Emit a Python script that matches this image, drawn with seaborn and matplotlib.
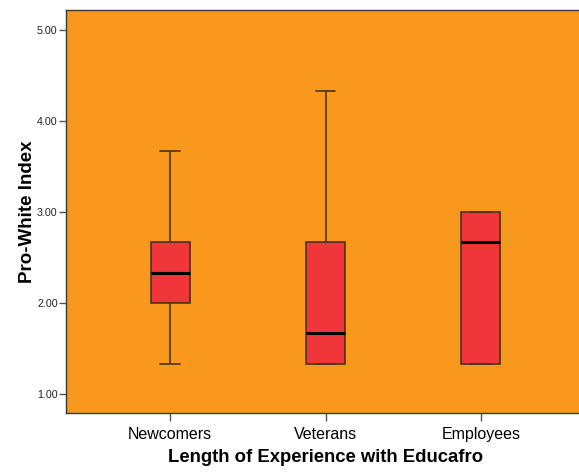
import matplotlib
matplotlib.use("Agg")
import matplotlib.pyplot as plt
import seaborn as sns
import pandas as pd

# Five-number summaries of the Pro-White Index by group
groups = ["Newcomers", "Veterans", "Employees"]
lows = [1.33, 1.33, 1.33]
q1s = [2.00, 1.33, 1.33]
medians = [2.33, 1.67, 2.67]
q3s = [2.67, 2.67, 3.00]
highs = [3.67, 4.33, 3.00]
yticks = [1.0, 2.0, 3.0, 4.0, 5.0]

rows = []
for g, lo, a, m, b, hi in zip(groups, lows, q1s, medians, q3s, highs):
    for v in (lo, a, m, b, hi):
        rows.append({"group": g, "score": v})
df = pd.DataFrame(rows)

sns.set_theme(style="ticks")
plt.rcParams["font.family"] = ["Liberation Sans", "DejaVu Sans"]

W, H = 579, 472
fig = plt.figure(figsize=(W / 100, H / 100), dpi=100)
ax = fig.add_axes([66 / W, 1 - 413 / H, 519 / W, 403 / H])
ax.set_facecolor("#F8991D")

sns.boxplot(
    data=df, x="group", y="score", order=groups,
    whis=(0, 100), width=0.25, color="#F0353B", saturation=1,
    linecolor="#4a3318", linewidth=1.2,
    medianprops=dict(color="black", linewidth=2.2),
    ax=ax,
)

ax.set_xlim(-0.67, 2.67)
ax.set_ylim(0.79, 5.22)
ax.set_yticks(yticks)
ax.set_yticklabels([f"{t:.2f}" for t in yticks], fontsize=7.7, color="#222222")
ax.tick_params(axis="y", length=5, width=1, color="#555555", pad=1)
ax.tick_params(axis="x", length=6, width=1, color="#555555", pad=4, labelsize=11.5, labelcolor="black")

ax.set_xlabel("Length of Experience with Educafro", fontsize=13.3, fontweight="bold",
              labelpad=5, color="black")
ax.set_ylabel("Pro-White Index", fontsize=13.5, fontweight="bold", labelpad=1, color="black")

for side in ("left", "bottom", "top", "right"):
    ax.spines[side].set_color("#3a3a3a")
    ax.spines[side].set_linewidth(1.0)

fig.savefig("out.png", dpi=100)
